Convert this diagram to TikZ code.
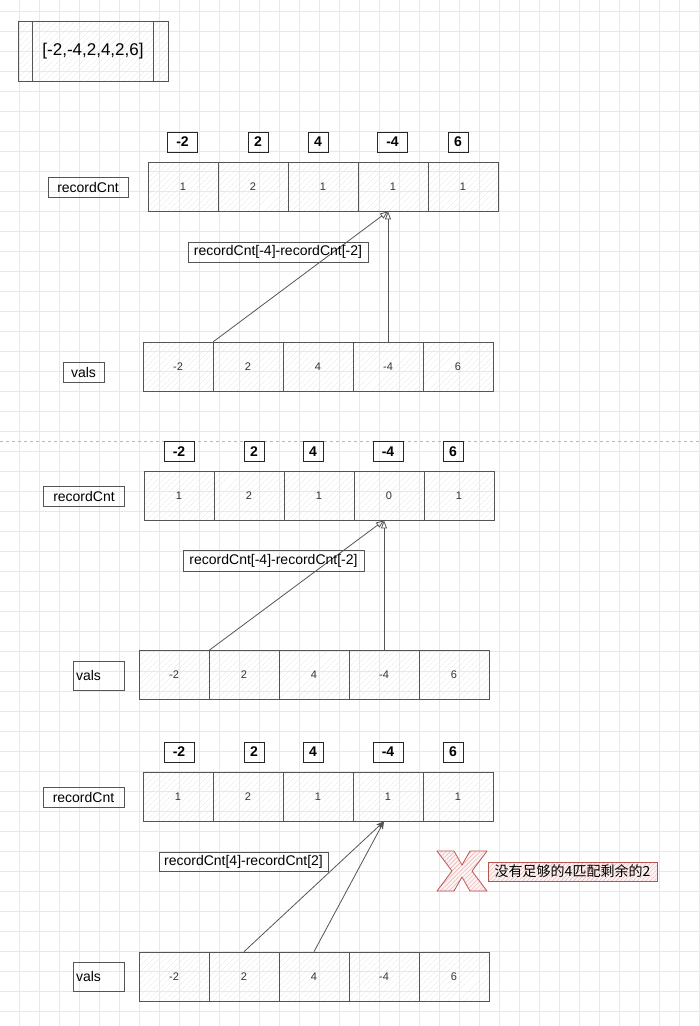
\documentclass[tikz,border=0pt]{standalone}
\usepackage{fontspec}
\setmainfont{Liberation Sans}
\newfontfamily\cjk{Noto Sans CJK SC}
\usetikzlibrary{arrows.meta,patterns.meta}
\definecolor{lineclr}{HTML}{555555}
\definecolor{redline}{HTML}{B85450}
\definecolor{gridclr}{HTML}{E8E8E8}
\begin{document}
\begin{tikzpicture}[
        x=1pt, y=-1pt,
        gridline/.style={draw=gridclr, line width=0.5pt},
        hatch/.style={pattern={Lines[angle=45,distance=4pt,line width=0.3pt]}, pattern color=gray!20},
        cell/.style={draw=lineclr, line width=0.7pt, hatch, minimum width=70pt, minimum height=49pt, inner sep=0pt, text=black!80, font=\fontsize{11}{13}\selectfont},
        hdr/.style={draw=black!85, line width=0.8pt, minimum width=20pt, minimum height=20pt, inner sep=0pt, font=\bfseries\fontsize{14}{16}\selectfont},
        hdrw/.style={hdr, minimum width=30pt},
        lbl/.style={draw=lineclr, line width=0.7pt, minimum height=20pt, inner sep=0pt, font=\fontsize{14}{16}\selectfont},
        lblleft/.style={lbl, text width=45pt, align=left, inner xsep=3pt, minimum height=29pt},
        link/.style={draw=lineclr, line width=0.8pt, -{Triangle[open,length=8pt,width=6pt]}},
        linkb/.style={draw=lineclr, line width=0.8pt, -{Stealth[length=8pt,width=6pt]}},
        redhatch/.style={preaction={fill=red!5}, pattern={Lines[angle=45,distance=3pt,line width=0.4pt]}, pattern color=redline!45},
        cross/.style={draw=redline, line width=0.8pt, line join=round, redhatch},
        note/.style={draw=redline, line width=0.7pt, redhatch, minimum width=169pt, minimum height=19pt, inner sep=0pt, font=\cjk\fontsize{14}{16}\selectfont}
    ]
        \fill[white] (0,0) rectangle (700,1026);
        \useasboundingbox (0,0) rectangle (700,1026);
        \foreach \gx in {19.5,39.5,...,699.5} \draw[gridline] (\gx,0) -- (\gx,1026);
        \foreach \gy in {11.5,31.5,...,1011.5} \draw[gridline] (0,\gy) -- (700,\gy);

        \node[draw=lineclr, line width=0.8pt, hatch, minimum width=150pt, minimum height=60pt, inner sep=0pt, font=\fontsize{17}{20}\selectfont] (arr) at (93,51) {[-2,-4,2,4,2,6]};
        \draw[lineclr, line width=0.8pt] ([xshift=15pt]arr.north west) -- ([xshift=15pt]arr.south west);
        \draw[lineclr, line width=0.8pt] ([xshift=-15pt]arr.north east) -- ([xshift=-15pt]arr.south east);

        \node[hdrw] (h1a) at (182.5,142) {-2};
        \node[hdr] (h1b) at (258,142) {2};
        \node[hdr] (h1c) at (318,142) {4};
        \node[hdrw] (h1d) at (392.5,142) {-4};
        \node[hdr] (h1e) at (458,142) {6};
        \node[lbl, minimum width=80pt] (cnt1) at (88,187) {recordCnt};
        \node[cell] (c1a) at (183,186.5) {1};
        \node[cell] (c1b) at (253,186.5) {2};
        \node[cell] (c1c) at (323,186.5) {1};
        \node[cell] (c1d) at (393,186.5) {1};
        \node[cell] (c1e) at (463,186.5) {1};
        \node[lbl, minimum width=41pt] (vals1) at (83.5,372) {vals};
        \node[cell] (v1a) at (178,366.5) {-2};
        \node[cell] (v1b) at (248,366.5) {2};
        \node[cell] (v1c) at (318,366.5) {4};
        \node[cell] (v1d) at (388,366.5) {-4};
        \node[cell] (v1e) at (458,366.5) {6};
        \draw[link] (v1a.north east) -- (v1d.north |- c1d.south);
        \draw[link] (v1d.north) -- (v1d.north |- c1d.south);
        \node[lbl, minimum width=180pt] (f1) at (278,252) {recordCnt[-4]-recordCnt[-2]};

        \draw[gray!55, dashed, line width=0.6pt] (0,441) -- (700,441);

        \node[hdrw] (h2a) at (179,451.5) {-2};
        \node[hdr] (h2b) at (254,451.5) {2};
        \node[hdr] (h2c) at (313,451.5) {4};
        \node[hdrw] (h2d) at (388,451.5) {-4};
        \node[hdr] (h2e) at (453,451.5) {6};
        \node[lbl, minimum width=81pt] (cnt2) at (84,496.5) {recordCnt};
        \node[cell] (c2a) at (179,495.5) {1};
        \node[cell] (c2b) at (249,495.5) {2};
        \node[cell] (c2c) at (319,495.5) {1};
        \node[cell] (c2d) at (389,495.5) {0};
        \node[cell] (c2e) at (459,495.5) {1};
        \node[lblleft] (vals2) at (98.5,675.5) {vals};
        \node[cell] (v2a) at (174,675) {-2};
        \node[cell] (v2b) at (244,675) {2};
        \node[cell] (v2c) at (314,675) {4};
        \node[cell] (v2d) at (384,675) {-4};
        \node[cell] (v2e) at (454,675) {6};
        \draw[link] (v2a.north east) -- (v2d.north |- c2d.south);
        \draw[link] (v2d.north) -- (v2d.north |- c2d.south);
        \node[lbl, minimum width=181pt, minimum height=21pt] (f2) at (273.5,560.5) {recordCnt[-4]-recordCnt[-2]};

        \node[hdrw] (h3a) at (179,752) {-2};
        \node[hdr] (h3b) at (254,752) {2};
        \node[hdr] (h3c) at (313,752) {4};
        \node[hdrw] (h3d) at (388,752) {-4};
        \node[hdr] (h3e) at (453,752) {6};
        \node[lbl, minimum width=81pt] (cnt3) at (83.5,797) {recordCnt};
        \node[cell] (c3a) at (178,796.5) {1};
        \node[cell] (c3b) at (248,796.5) {2};
        \node[cell] (c3c) at (318,796.5) {1};
        \node[cell] (c3d) at (388,796.5) {1};
        \node[cell] (c3e) at (458,796.5) {1};
        \node[lblleft] (vals3) at (98.5,976.5) {vals};
        \node[cell] (v3a) at (174,976.5) {-2};
        \node[cell] (v3b) at (244,976.5) {2};
        \node[cell] (v3c) at (314,976.5) {4};
        \node[cell] (v3d) at (384,976.5) {-4};
        \node[cell] (v3e) at (454,976.5) {6};
        \draw[linkb] (v3b.north) -- (v3d.north |- c3d.south);
        \draw[linkb] (v3c.north) -- (v3d.north |- c3d.south);
        \node[lbl, minimum width=169pt, minimum height=19pt] (f3) at (243.5,861.5) {recordCnt[4]-recordCnt[2]};

        \draw[cross, shift={(462,871)}] (-25,-20) -- (-8,-20) -- (0,-6) -- (8,-20) -- (25,-20) -- (10,0) -- (25,20) -- (8,20) -- (0,6) -- (-8,20) -- (-25,20) -- (-10,0) -- cycle;
        \node[note] (msg) at (572.5,871.5) {没有足够的4匹配剩余的2};
    \end{tikzpicture}
\end{document}
